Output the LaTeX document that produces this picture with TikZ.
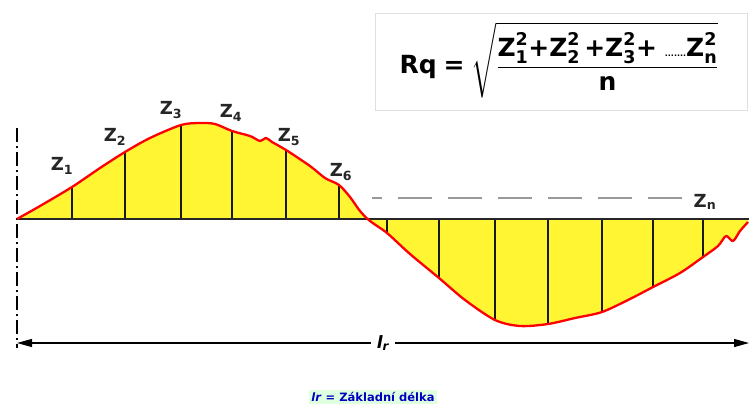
\documentclass[tikz,border=0pt]{standalone}
\usepackage{amsmath}
\usepackage{fontspec}
\setmainfont{DejaVu Sans}
\usetikzlibrary{arrows.meta}

\newcommand\zsq[1]{\textbf{Z}^{\textbf{2}}_{\textbf{#1}}}

\begin{document}
\begin{tikzpicture}[x=1pt, y=-1pt,
  zlbl/.style={font=\fontsize{18}{18}\selectfont\bfseries, text=black!85},
  ordinate/.style={black!90, line width=1.3pt},
  >={Triangle[length=15pt, width=8pt]}]
\useasboundingbox[fill=white] (0,0) rectangle (749,407);
\def\profile{plot[smooth, tension=0.5] coordinates {
  (17,219) (40,206) (72,187) (100,168) (125,152) (150,138) (181,125)
  (200,123) (215,124) (232,131) (250,136) (260,141) (266,138) (272,142)
  (286,150) (310,166) (325,178) (339,185) (350,197) (360,211) (370,221)
  (387,233) (410,254) (439,278) (465,300) (495,320) (520,326) (548,324)
  (575,318) (602,312) (630,299) (653,287) (680,273) (703,257) (718,246)
  (726,236) (733,241) (740,231) (748,222)}}
%%── Formula box ──────────────────────────────────────────
\node[draw=gray!25, fill=white, minimum width=372, minimum height=97,
      anchor=north west, inner sep=0pt] (frame) at (375,13) {};
\node[font=\fontsize{25}{30}\selectfont] (rq) at (559,60)
  {$\textbf{Rq} \mathrel{\textbf{=}}
    \sqrt{\dfrac{\zsq{1}\textbf{+}\zsq{2}\,\textbf{+}\zsq{3}\textbf{+}\
      \textbf{\footnotesize.......}\zsq{n}}{\textbf{n}}}$};
%%── Yellow area between profile and mean line ───────────
\fill[yellow!80!white] \profile -- (748,219) -- (17,219) -- cycle;
%%── Ordinates Z1 ... Zn ─────────────────────────────────
\begin{scope}
  \clip \profile -- (748,219) -- (17,219) -- cycle;
  \foreach \x in {72,125,181,232,286,339}
    \draw[ordinate] (\x,219) -- (\x,100);
  \foreach \x in {387,439,495,548,602,653,703}
    \draw[ordinate] (\x,219) -- (\x,340);
\end{scope}
%%── Mean line and reference line ────────────────────────
\draw[black!85, line width=1.4pt] (17,219) -- (749,219);
\draw[gray!80, line width=1.2pt, dash pattern=on 34pt off 16pt, dash phase=24pt]
  (372,198) -- (682,198);
\draw[black, line width=1.2pt, dash pattern=on 14pt off 4pt on 2pt off 4pt]
  (17,128) -- (17,348);
%%── Profile ─────────────────────────────────────────────
\draw[red, line width=2.3pt, line join=round] \profile;
%%── Ordinate labels ─────────────────────────────────────
\node[zlbl] (z1) at (62,166) {Z$_{\textbf{1}}$};
\node[zlbl] (z2) at (115,137) {Z$_{\textbf{2}}$};
\node[zlbl] (z3) at (171,110) {Z$_{\textbf{3}}$};
\node[zlbl] (z4) at (231,113) {Z$_{\textbf{4}}$};
\node[zlbl] (z5) at (289,137) {Z$_{\textbf{5}}$};
\node[zlbl] (z6) at (341,172) {Z$_{\textbf{6}}$};
\node[zlbl] (zn) at (705,202) {Z$_{\textbf{n}}$};
%%── Sampling length ─────────────────────────────────────
\coordinate (lrA) at (17,343);
\coordinate (lrB) at (749,343);
\draw[<->, line width=1.2pt] (lrA) -- (lrB)
  node[midway, fill=white, inner xsep=6pt, font=\fontsize{17}{17}\selectfont\bfseries\itshape]
  (lr) {l$_{\textbf{r}}$};
\node[fill=green!12, text=blue!75!black, inner sep=2pt,
      font=\fontsize{11.5}{12}\selectfont\bfseries] (caption) at (373,397)
  {\textit{lr} = Základní délka};
\end{tikzpicture}
\end{document}
